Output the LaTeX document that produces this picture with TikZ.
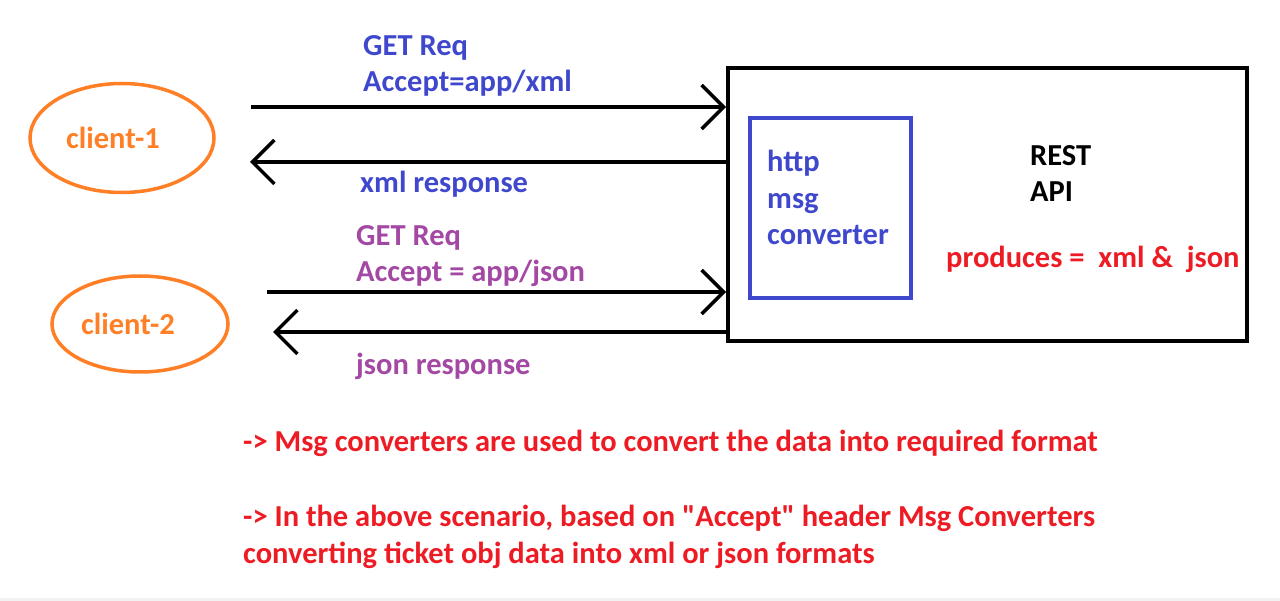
\documentclass[tikz,border=0pt]{standalone}
\usepackage{fontspec}
\setmainfont{Carlito}[Ligatures=TeXOff]
\usetikzlibrary{positioning,shapes.geometric,arrows.meta}

\definecolor{reqblue}{HTML}{3F48CC}
\definecolor{reqpurple}{HTML}{A349A4}
\definecolor{clientorange}{HTML}{FF7F27}
\definecolor{notered}{HTML}{ED1C24}

\newcommand{\lblfont}{\fontsize{30.5}{36.5}\selectfont\bfseries}

\tikzset{
  client/.style={ellipse, draw=clientorange, line width=3.5pt, inner sep=0},
  clienttext/.style={text=clientorange, font=\lblfont, inner sep=0},
  flow/.style={line width=3.5pt, -{Straight Barb[length=22pt,width=44pt]}},
  lbl/.style={anchor=base west, inner sep=0, align=left, font=\lblfont},
}

\begin{document}
\begin{tikzpicture}[x=1pt, y=-1pt]
  \useasboundingbox (0,0) rectangle (1280,601);
  \fill[gray!10] (0,598) rectangle (1280,601);

  % clients
  \node[client, minimum width=184, minimum height=109,
        label={[clienttext, xshift=-9pt]center:client-1}] (client1) at (122,138) {};
  \node[client, minimum width=176, minimum height=96,
        label={[clienttext, xshift=-12pt]center:client-2}] (client2) at (140,324) {};

  % server side
  \node[draw, line width=4pt, minimum width=519, minimum height=273] (restapi) at (987.5,204.5) {};
  \node[draw=reqblue, line width=4pt, minimum width=161, minimum height=180] (converter) at (830.5,208) {};
  \node[lbl, text=reqblue] (convtext) at (767,245) {http\\msg\\converter};
  \node[lbl] (resttext) at (1030,202) {REST\\API};
  \node[lbl, text=notered] (produces) at (946,268) {produces =\ \ xml \&\ \ json};

  % request / response flows
  \coordinate (req1) at (251,107);
  \coordinate (res1) at (250,162);
  \coordinate (req2) at (267,292);
  \coordinate (res2) at (273,332);
  \draw[flow] (req1) -- (restapi.west |- req1);
  \draw[flow] (restapi.west |- res1) -- (res1);
  \draw[flow] (req2) -- (restapi.west |- req2);
  \draw[flow] (restapi.west |- res2) -- (res2);

  \node[lbl, text=reqblue] (req1text) at (363,92) {GET Req\\Accept=app/xml};
  \node[lbl, text=reqblue] (res1text) at (360,193) {xml response};
  \node[lbl, text=reqpurple] (req2text) at (356,282) {GET Req\\Accept = app/json};
  \node[lbl, text=reqpurple] (res2text) at (356,375) {json response};

  % notes
  \node[lbl, text=notered] (note1) at (243,452) {-> Msg converters are used to convert the data into required format};
  \node[lbl, text=notered] (note2) at (243,563) {-> In the above scenario, based on "Accept" header Msg Converters\\converting ticket obj data into xml or json formats};
\end{tikzpicture}
\end{document}
